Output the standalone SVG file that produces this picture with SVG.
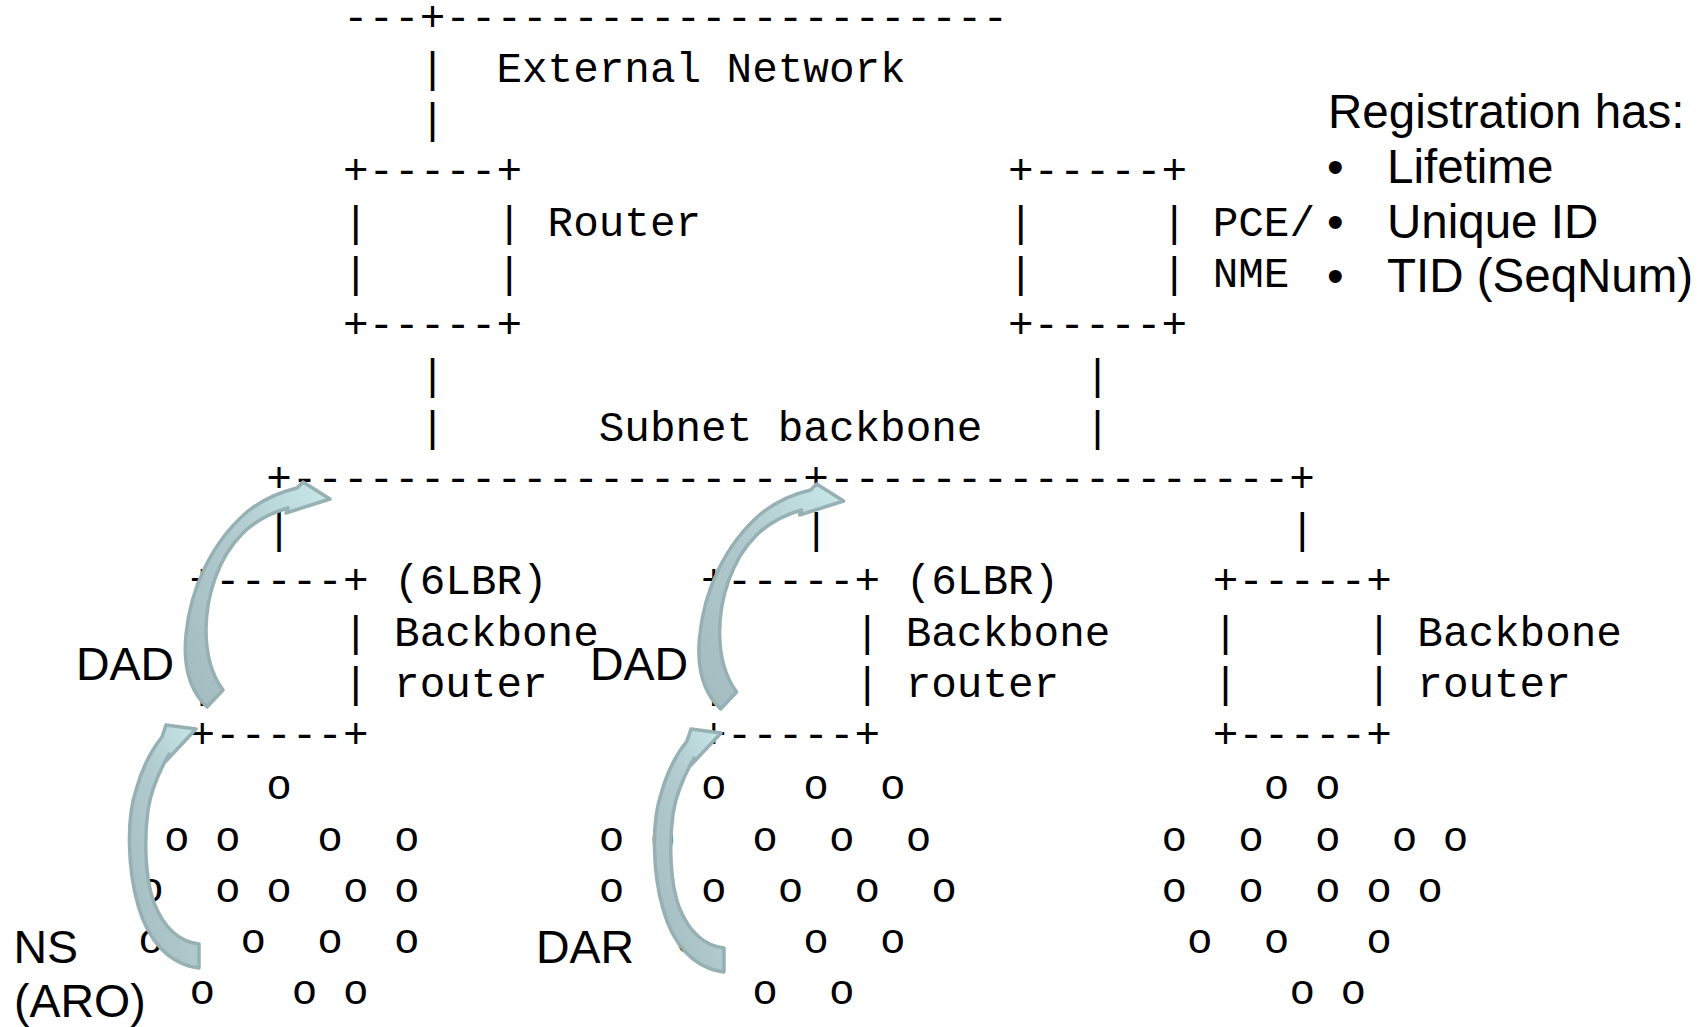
<svg xmlns="http://www.w3.org/2000/svg" width="1708" height="1027" viewBox="0 0 1708 1027" xml:space="preserve">
<style>
.m{font-family:"Liberation Mono","Courier New",monospace;font-size:42.63px;fill:#000;white-space:pre}
.s{font-family:"Liberation Sans",Arial,sans-serif;font-size:47.5px;fill:#000}
.l{font-family:"Liberation Sans",Arial,sans-serif;font-size:46.5px;fill:#000}
.arrow{fill:url(#ag);stroke:#96b0b3;stroke-width:3.5;stroke-linejoin:round}
</style>
<defs>
<linearGradient id="ag" x1="0" y1="1" x2="1" y2="0">
<stop offset="0" stop-color="#a3bbbe"/>
<stop offset="0.55" stop-color="#b0cacd"/>
<stop offset="1" stop-color="#c9e9eb"/>
</linearGradient>
<path id="dadArrow" class="arrow" d="M 207,707 C 189,690 183,665 186,635 C 190,590 211,543 247,512 C 262,500 280,492 297,488 L 303,482 L 330,499 L 286,513 L 288,508 C 270,513 254,522 242,534 C 218,558 206,597 206,630 C 206,655 211,674 223,690 Z"/>
<path id="nsArrow" class="arrow" d="M 199,968 C 169,964 148,941 138,905 C 128,870 126,820 136,790 C 143,765 153,748 162,737 L 166,725 L 196,729 L 166,761 L 169,754 C 160,770 151,790 148,810 C 144,840 145,878 154,903 C 164,928 180,942 199,944 Z"/>
</defs>
<rect width="1708" height="1027" fill="#ffffff"/>

<g id="external-network">
<text class="m" x="342.94" y="30.5">---+----------------------</text>
<text class="m" x="496.42" y="81.75">External Network</text>
</g>

<g id="router">
<text class="m" x="342.94" y="184.25">+-----+</text>
<text class="m" x="342.94" y="235.5">|     |</text>
<text class="m" x="342.94" y="286.75">|     |</text>
<text class="m" x="342.94" y="338">+-----+</text>
<text class="m" x="547.58" y="235.5">Router</text>
</g>

<g id="pce-nme">
<text class="m" x="1008.02" y="184.25">+-----+</text>
<text class="m" x="1008.02" y="235.5">|     |</text>
<text class="m" x="1008.02" y="286.75">|     |</text>
<text class="m" x="1008.02" y="338">+-----+</text>
<text class="m" x="1212.66" y="235.5">PCE/</text>
<text class="m" x="1212.66" y="286.75">NME</text>
</g>

<g id="subnet-backbone">
<text class="m" x="598.74" y="440.5">Subnet backbone</text>
<text class="m" x="266.2" y="491.75">+--------------------+------------------+</text>
</g>

<g id="backbone-router-1">
<text class="m" x="189.46" y="594.25">+-----+</text>
<text class="m" x="189.46" y="645.5">|     |</text>
<text class="m" x="189.46" y="696.75">|     |</text>
<text class="m" x="189.46" y="748">+-----+</text>
<text class="m" x="394.1" y="594.25">(6LBR)</text>
<text class="m" x="394.1" y="645.5">Backbone</text>
<text class="m" x="394.1" y="696.75">router</text>
</g>

<g id="backbone-router-2">
<text class="m" x="701.06" y="594.25">+-----+</text>
<text class="m" x="701.06" y="645.5">|     |</text>
<text class="m" x="701.06" y="696.75">|     |</text>
<text class="m" x="701.06" y="748">+-----+</text>
<text class="m" x="905.7" y="594.25">(6LBR)</text>
<text class="m" x="905.7" y="645.5">Backbone</text>
<text class="m" x="905.7" y="696.75">router</text>
</g>

<g id="backbone-router-3">
<text class="m" x="1212.66" y="594.25">+-----+</text>
<text class="m" x="1212.66" y="645.5">|     |</text>
<text class="m" x="1212.66" y="696.75">|     |</text>
<text class="m" x="1212.66" y="748">+-----+</text>
<text class="m" x="1417.3" y="645.5">Backbone</text>
<text class="m" x="1417.3" y="696.75">router</text>
</g>

<g id="lln-1">
<text class="m" x="266.2" y="799.25">o</text>
<text class="m" x="163.88" y="850.5">o o   o  o</text>
<text class="m" x="138.3" y="901.75">o  o o  o o</text>
<text class="m" x="138.3" y="953">o   o  o  o</text>
<text class="m" x="189.46" y="1004.25">o   o o</text>
</g>

<g id="lln-2">
<text class="m" x="701.06" y="799.25">o   o  o</text>
<text class="m" x="598.74" y="850.5">o o   o  o  o</text>
<text class="m" x="598.74" y="901.75">o   o  o  o  o</text>
<text class="m" x="675.48" y="953">o    o  o</text>
<text class="m" x="752.22" y="1004.25">o  o</text>
</g>

<g id="lln-3">
<text class="m" x="1263.82" y="799.25">o o</text>
<text class="m" x="1161.5" y="850.5">o  o  o  o o</text>
<text class="m" x="1161.5" y="901.75">o  o  o o o</text>
<text class="m" x="1187.08" y="953">o  o   o</text>
<text class="m" x="1289.4" y="1004.25">o o</text>
</g>

<g id="registration-note">
<text class="s" x="1328" y="128">Registration has:</text>
<text class="s" x="1327" y="183">•</text>
<text class="s" x="1387" y="183">Lifetime</text>
<text class="s" x="1327" y="238">•</text>
<text class="s" x="1387" y="238">Unique ID</text>
<text class="s" x="1327" y="292">•</text>
<text class="s" x="1387" y="292">TID (SeqNum)</text>
</g>

<g id="labels">
<text class="l" x="76" y="680">DAD</text>
<text class="l" x="590" y="680">DAD</text>
<text class="l" x="13.5" y="963">NS</text>
<text class="l" x="14" y="1017">(ARO)</text>
<text class="l" x="536" y="963">DAR</text>
</g>

<g id="connectors">
<text class="m" x="419.68" y="81.75">|</text>
<text class="m" x="419.68" y="133">|</text>
<text class="m" x="419.68" y="389.25">|</text>
<text class="m" x="1084.76" y="389.25">|</text>
<text class="m" x="419.68" y="440.5">|</text>
<text class="m" x="1084.76" y="440.5">|</text>
<text class="m" x="266.2" y="543">|</text>
<text class="m" x="803.38" y="543">|</text>
<text class="m" x="1289.4" y="543">|</text>
<use id="arrow-dad-1" href="#dadArrow"/>
<use id="arrow-dad-2" href="#dadArrow" transform="translate(513.6,2)"/>
<use id="arrow-ns-aro" href="#nsArrow"/>
<use id="arrow-dar" href="#nsArrow" transform="translate(525,4)"/>
</g>
</svg>
